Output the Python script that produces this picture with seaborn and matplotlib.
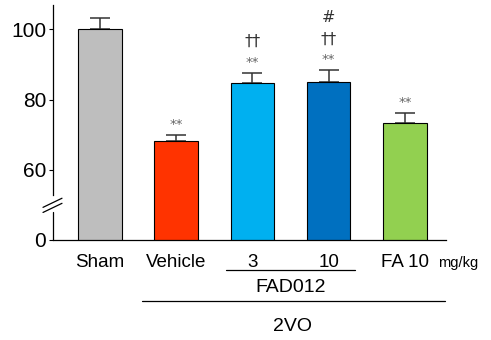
import matplotlib
matplotlib.use("Agg")
import matplotlib.pyplot as plt
import seaborn as sns
import pandas as pd

# Group means and standard errors
groups = ["Sham", "Vehicle", "3", "10", "FA 10"]
means = [100.0, 68.2, 84.6, 84.9, 73.3]
sems = [3.2, 1.7, 3.1, 3.5, 2.9]
colors = ["#BEBEBE", "#FF3300", "#00B0F0", "#0070C0", "#92D050"]
# significance marks, bottom to top, for each group
marks = [[], ["**"], ["**", "††"], ["**", "††", "#"], ["**"]]
y_ticks = [40, 60, 80, 100]
y_ticklabels = ["0", "60", "80", "100"]

sns.set_style("white")
plt.rcParams["font.family"] = ["Liberation Sans", "DejaVu Sans"]
plt.rcParams["text.color"] = "black"
plt.rcParams["xtick.color"] = "black"
plt.rcParams["ytick.color"] = "black"

fig = plt.figure(figsize=(4.91, 3.40), dpi=100)
ax = fig.add_axes([53 / 491, 100 / 340, 393 / 491, 235 / 340])

df = pd.DataFrame({"group": groups, "value": means})
sns.barplot(data=df, x="group", y="value", hue="group", order=groups,
            palette=colors, legend=False, width=0.57, edgecolor="black",
            linewidth=0.8, saturation=1, ax=ax, zorder=2)

xs = range(len(groups))
ax.errorbar(list(xs), means, yerr=[[0] * len(sems), sems], fmt="none",
            ecolor="#333333", elinewidth=1.1, capsize=7.5, capthick=1.1,
            zorder=1)

# significance annotations stacked above each error bar
offsets = [7.5, 22.5, 38]
for i, (m, s, labs) in enumerate(zip(means, sems, marks)):
    for k, lab in enumerate(labs):
        col = "#666666" if lab == "**" else "#333333"
        ax.annotate(lab, xy=(i, m + s), xytext=(0, offsets[k]),
                    textcoords="offset points", ha="center", va="center",
                    fontsize=11.5 if lab != "**" else 9.5, color=col,
                    family=["DejaVu Sans"])

ax.set_xlim(-0.614, 4.54)
ax.set_ylim(40, 106.95)
ax.set_yticks(y_ticks)
ax.set_yticklabels(y_ticklabels, fontsize=15)
ax.set_xlabel("")
ax.set_ylabel("")
ax.tick_params(axis="y", length=3, width=0.8, pad=2, left=True,
               direction="out", colors="black")
ax.tick_params(axis="x", length=0, pad=10, labelsize=13.5, colors="black")

for side in ("top", "right"):
    ax.spines[side].set_visible(False)
for side in ("left", "bottom"):
    ax.spines[side].set_linewidth(0.9)
    ax.spines[side].set_color("black")

# broken y axis: upper spine segment, lower stub and the two slashes
ax.spines["left"].set_bounds(52.7, 106.95)
ytr = ax.get_yaxis_transform()
ax.plot([0, 0], [40, 47.9], color="black", lw=0.9, transform=ytr,
        clip_on=False)
px_x = 1 / 393
for dy in (0.0, -1.45):
    ax.plot([-10 * px_x, 9 * px_x], [49.3 + dy, 51.9 + dy], color="black",
            lw=0.9, transform=ytr, clip_on=False)

# group labels below the x axis
xtr = ax.get_xaxis_transform()
ax.text(4.44, -0.115, "mg/kg", transform=xtr, fontsize=10.5, ha="left",
        va="baseline", clip_on=False)
ax.plot([1.655, 3.347], [-0.128, -0.128], color="black", lw=0.9,
        transform=xtr, clip_on=False)
ax.text(2.5, -0.2, "FAD012", transform=xtr, fontsize=14, ha="center",
        va="center")
ax.plot([0.553, 4.527], [-0.26, -0.26], color="black", lw=0.9,
        transform=xtr, clip_on=False)
ax.text(2.53, -0.37, "2VO", transform=xtr, fontsize=14, ha="center",
        va="center")

fig.savefig("out.png", dpi=100)
